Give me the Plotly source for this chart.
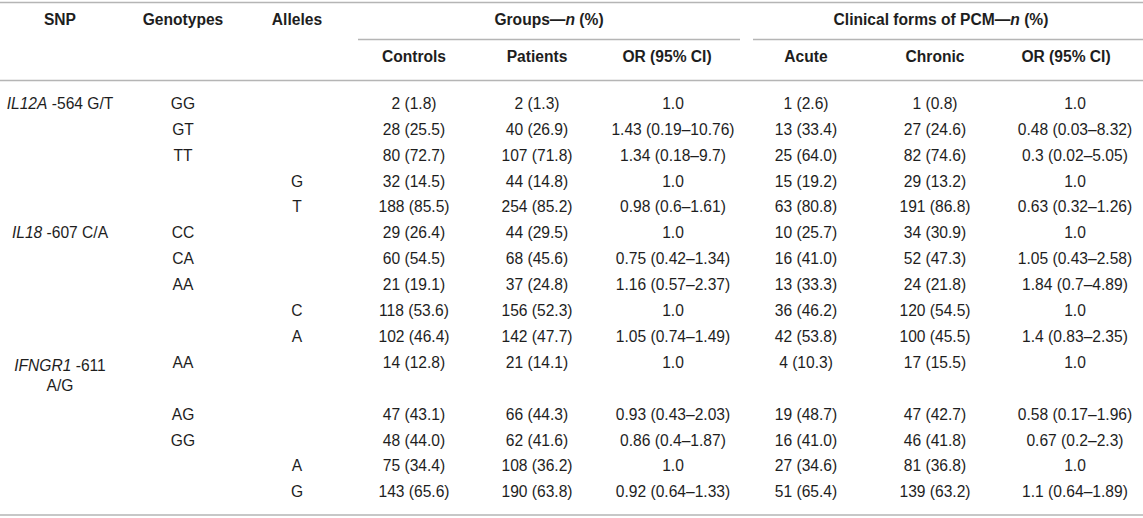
import plotly.graph_objects as go

# table contents, one list per column
snp = ["<i>IL12A</i> -564 G/T", "", "", "", "",
       "<i>IL18</i> -607 C/A", "", "", "", "",
       "<i>IFNGR1</i> -611<br>A/G", "", "", "", ""]
genotypes = ["GG", "GT", "TT", "", "", "CC", "CA", "AA", "", "", "AA", "AG", "GG", "", ""]
alleles = ["", "", "", "G", "T", "", "", "", "C", "A", "", "", "", "A", "G"]
controls = ["2 (1.8)", "28 (25.5)", "80 (72.7)", "32 (14.5)", "188 (85.5)",
            "29 (26.4)", "60 (54.5)", "21 (19.1)", "118 (53.6)", "102 (46.4)",
            "14 (12.8)", "47 (43.1)", "48 (44.0)", "75 (34.4)", "143 (65.6)"]
patients = ["2 (1.3)", "40 (26.9)", "107 (71.8)", "44 (14.8)", "254 (85.2)",
            "44 (29.5)", "68 (45.6)", "37 (24.8)", "156 (52.3)", "142 (47.7)",
            "21 (14.1)", "66 (44.3)", "62 (41.6)", "108 (36.2)", "190 (63.8)"]
or_groups = ["1.0", "1.43 (0.19–10.76)", "1.34 (0.18–9.7)", "1.0", "0.98 (0.6–1.61)",
             "1.0", "0.75 (0.42–1.34)", "1.16 (0.57–2.37)", "1.0", "1.05 (0.74–1.49)",
             "1.0", "0.93 (0.43–2.03)", "0.86 (0.4–1.87)", "1.0", "0.92 (0.64–1.33)"]
acute = ["1 (2.6)", "13 (33.4)", "25 (64.0)", "15 (19.2)", "63 (80.8)",
         "10 (25.7)", "16 (41.0)", "13 (33.3)", "36 (46.2)", "42 (53.8)",
         "4 (10.3)", "19 (48.7)", "16 (41.0)", "27 (34.6)", "51 (65.4)"]
chronic = ["1 (0.8)", "27 (24.6)", "82 (74.6)", "29 (13.2)", "191 (86.8)",
           "34 (30.9)", "52 (47.3)", "24 (21.8)", "120 (54.5)", "100 (45.5)",
           "17 (15.5)", "47 (42.7)", "46 (41.8)", "81 (36.8)", "139 (63.2)"]
or_forms = ["1.0", "0.48 (0.03–8.32)", "0.3 (0.02–5.05)", "1.0", "0.63 (0.32–1.26)",
            "1.0", "1.05 (0.43–2.58)", "1.84 (0.7–4.89)", "1.0", "1.4 (0.83–2.35)",
            "1.0", "0.58 (0.17–1.96)", "0.67 (0.2–2.3)", "1.0", "1.1 (0.64–1.89)"]

top_headers = ["SNP", "Genotypes", "Alleles"]
group_headers = ["Groups—<i>n</i> (%)", "Clinical forms of PCM—<i>n</i> (%)"]
sub_headers = ["Controls", "Patients", "OR (95% CI)", "Acute", "Chronic", "OR (95% CI)"]

# layout (pixel-like units on both axes)
W, H = 1143, 518
FONT = "Liberation Sans, Arial, sans-serif"
TXT = "#1e1e1e"
LINE = "#b5b5b5"
FS = 15.6
first_row, step = 105, 25.9
col_x = [60, 183, 297, 414, 537, 673, 806, 935, 1075]
sub_x = [414, 537, 667, 806, 935, 1066]
group_spans = [(358, 740), (753, 1143)]


def row_y(i, text=""):
    # IFNGR1 snp label takes two lines, so rows after it shift one slot
    slot = i if i <= 10 else i + 1
    y = first_row + slot * step
    if "<br>" in text:
        y += step * text.count("<br>") / 2
    return y


columns = [snp, genotypes, alleles, controls, patients, or_groups, acute, chronic, or_forms]

fig = go.Figure()
for x, col in zip(col_x, columns):
    xs, ys, ts = [], [], []
    for i, t in enumerate(col):
        if t == "":
            continue
        xs.append(x)
        ys.append(row_y(i, t))
        ts.append(t)
    fig.add_trace(go.Scatter(x=xs, y=ys, text=ts, mode="text", textposition="middle center",
                             textfont=dict(family=FONT, size=FS, color=TXT),
                             hoverinfo="skip", showlegend=False))

# headers
fig.add_trace(go.Scatter(x=col_x[:3], y=[21.5] * 3, text=["<b>%s</b>" % h for h in top_headers],
                         mode="text", textfont=dict(family=FONT, size=FS, color=TXT),
                         hoverinfo="skip", showlegend=False))
fig.add_trace(go.Scatter(x=[549, 941], y=[21.5] * 2, text=["<b>%s</b>" % h for h in group_headers],
                         mode="text", textfont=dict(family=FONT, size=FS, color=TXT),
                         hoverinfo="skip", showlegend=False))
fig.add_trace(go.Scatter(x=sub_x, y=[58.5] * 6, text=["<b>%s</b>" % h for h in sub_headers],
                         mode="text", textfont=dict(family=FONT, size=FS, color=TXT),
                         hoverinfo="skip", showlegend=False))

# rules
for y in [2.5, 80.5, 515]:
    fig.add_shape(type="line", x0=0, x1=W, y0=y, y1=y, line=dict(color=LINE, width=1.6))
for a, b in group_spans:
    fig.add_shape(type="line", x0=a, x1=b, y0=39.5, y1=39.5, line=dict(color=LINE, width=1.6))

fig.update_xaxes(range=[0, W], visible=False, fixedrange=True)
fig.update_yaxes(range=[H, 0], visible=False, fixedrange=True)
fig.update_layout(width=W, height=H, margin=dict(l=0, r=0, t=0, b=0),
                  plot_bgcolor="white", paper_bgcolor="white")

# page has a default body margin; drop it so the table sits at the window corner
fig.write_html("out.html", config={"displayModeBar": False},
               post_script="document.body.style.margin='0';")
